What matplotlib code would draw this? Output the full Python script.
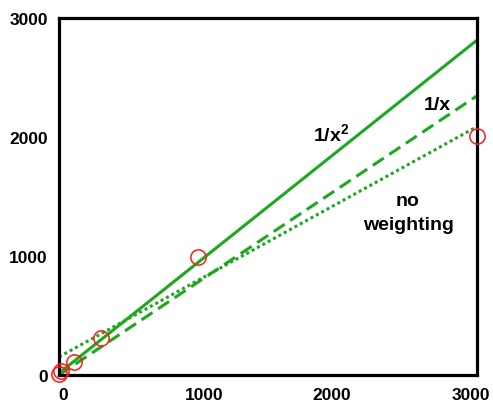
import numpy as np
import matplotlib
matplotlib.use("Agg")
import matplotlib.pyplot as plt
from matplotlib.transforms import ScaledTranslation

plt.rcParams['font.family'] = ['Liberation Sans', 'DejaVu Sans']
plt.rcParams['mathtext.fontset'] = 'custom'
plt.rcParams['mathtext.bf'] = 'Liberation Sans:bold'
plt.rcParams['mathtext.rm'] = 'Liberation Sans:bold'

# calibration standards (concentration vs response)
conc = [1, 15, 110, 300, 1000, 3000]
response = [10, 35, 110, 310, 990, 2010]

# fitted regression lines: (slope, intercept)
fit_inv_x2 = (0.933, 15)    # 1/x^2 weighting
fit_inv_x = (0.782, 0)      # 1/x weighting
fit_none = (0.645, 152)     # no weighting

x_ticks = [0, 1000, 2000, 3000]
y_ticks = [0, 1000, 2000, 3000]

green = '#1ea81e'

fig = plt.figure(figsize=(4.93, 4.02), dpi=100)
ax = fig.add_axes([59 / 493, 1 - 376 / 402, (477 - 59) / 493, (376 - 19) / 402])

xs = np.array([0, 3000])
lw = 2.2
ax.plot(xs, fit_inv_x2[0] * xs + fit_inv_x2[1], color=green, lw=lw,
        solid_capstyle='butt')
ax.plot(xs, fit_inv_x[0] * xs + fit_inv_x[1], color=green, lw=lw,
        linestyle=(0, (4.3, 2.2)), dash_capstyle='butt')
ax.plot(xs, fit_none[0] * xs + fit_none[1], color=green, lw=lw,
        linestyle=(0, (1, 1)), dash_capstyle='butt')

ax.plot(conc, response, linestyle='none', marker='o', markersize=11,
        markerfacecolor='none', markeredgecolor='#ff1a1a', markeredgewidth=1.1,
        clip_on=False, zorder=5)

ax.set_xlim(0, 3000)
ax.set_ylim(0, 3000)
ax.set_xticks(x_ticks)
ax.set_yticks(y_ticks)
ax.tick_params(length=0, labelsize=12.5)
ax.tick_params(axis='x', pad=9)
ax.tick_params(axis='y', pad=8)
for lab in ax.get_xticklabels() + ax.get_yticklabels():
    lab.set_fontweight('bold')

# small horizontal nudges (pixels) for the x tick labels
nudges = [4, 6, -6, -6]
for lab, dx in zip(ax.get_xticklabels(), nudges):
    lab.set_transform(lab.get_transform()
                      + ScaledTranslation(dx / 100, 0, fig.dpi_scale_trans))

for sp in ax.spines.values():
    sp.set_linewidth(2.3)

ax.text(1953, 2034, r'$\mathbf{1/x^2}$', fontsize=14,
        ha='center', va='center')
ax.text(2714, 2277, '1/x', fontsize=14, fontweight='bold',
        ha='center', va='center')
ax.text(2505, 1365, 'no\nweighting', fontsize=14, fontweight='bold',
        ha='center', va='center', linespacing=1.55)

fig.savefig('out.png', dpi=100)
